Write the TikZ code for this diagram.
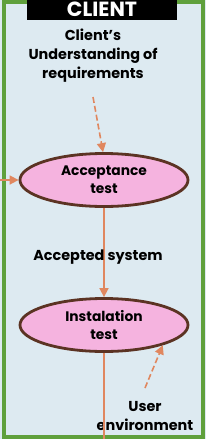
\documentclass[tikz,border=0pt]{standalone}
\usepackage{fontspec}
\setmainfont{Poppins}
\usetikzlibrary{arrows.meta,positioning,shapes.geometric}
\definecolor{bgblue}{HTML}{DDEAF1}
\definecolor{framegreen}{HTML}{5FA03C}
\definecolor{testpink}{HTML}{F5B3DF}
\definecolor{testbrown}{HTML}{5B3323}
\definecolor{flowline}{HTML}{E0875F}

\begin{document}
\begin{tikzpicture}[
    x=1pt, y=-1pt,
    test/.style={draw=testbrown, line width=2.8pt, ellipse, fill=testpink, minimum width=168pt, minimum height=53pt, inner sep=0pt, align=center, font=\bfseries\fontsize{13.8}{18}\selectfont},
    txt/.style={align=center, font=\bfseries\fontsize{14.4}{19}\selectfont},
    title/.style={fill=black, text=white, minimum width=150pt, minimum height=21pt, inner sep=0pt, font=\bfseries\fontsize{20.5}{21}\selectfont},
    data/.style={-{Triangle[length=9pt, width=9pt]}, flowline, line width=1.6pt},
    input/.style={-{Triangle[length=9pt, width=9pt]}, flowline, line width=1.6pt, dash pattern=on 6pt off 3pt},
  ]
    % Background and frame
    \useasboundingbox (0,0) rectangle (206,439);
    \fill[bgblue] (0,0) rectangle (206,439);
    \draw[framegreen, line width=3.6pt] (4,2) rectangle (203,437);
    \node[title] (client) at (102,9.5) {CLIENT};

    % Nodes
    \node[txt] (req) at (93,56) {Client’s\\Understanding of\\requirements};
    \node[test] (acc) at (104,180) {Acceptance\\test};
    \node[test] (inst) at (104,325) {Instalation\\test};
    \node[txt] (env) at (145,416) {User\\environment};

    % Free ends
    \coordinate (reqend) at (93,97);
    \coordinate (leftin) at (0,180);
    \coordinate (envend) at (145,388);
    \coordinate (bottom) at (104,439);

    % Main flow
    \draw[data] (acc) -- (inst);
    \draw[flowline, line width=1.6pt] (inst) -- (bottom);
    \node[txt] (accsys) at (98,257) {Accepted system};

    % Inputs
    \draw[input] (reqend) -- (acc.92);
    \draw[data] (leftin) -- (acc);
    \draw[input] (envend) -- (inst.-19);
  \end{tikzpicture}
\end{document}
